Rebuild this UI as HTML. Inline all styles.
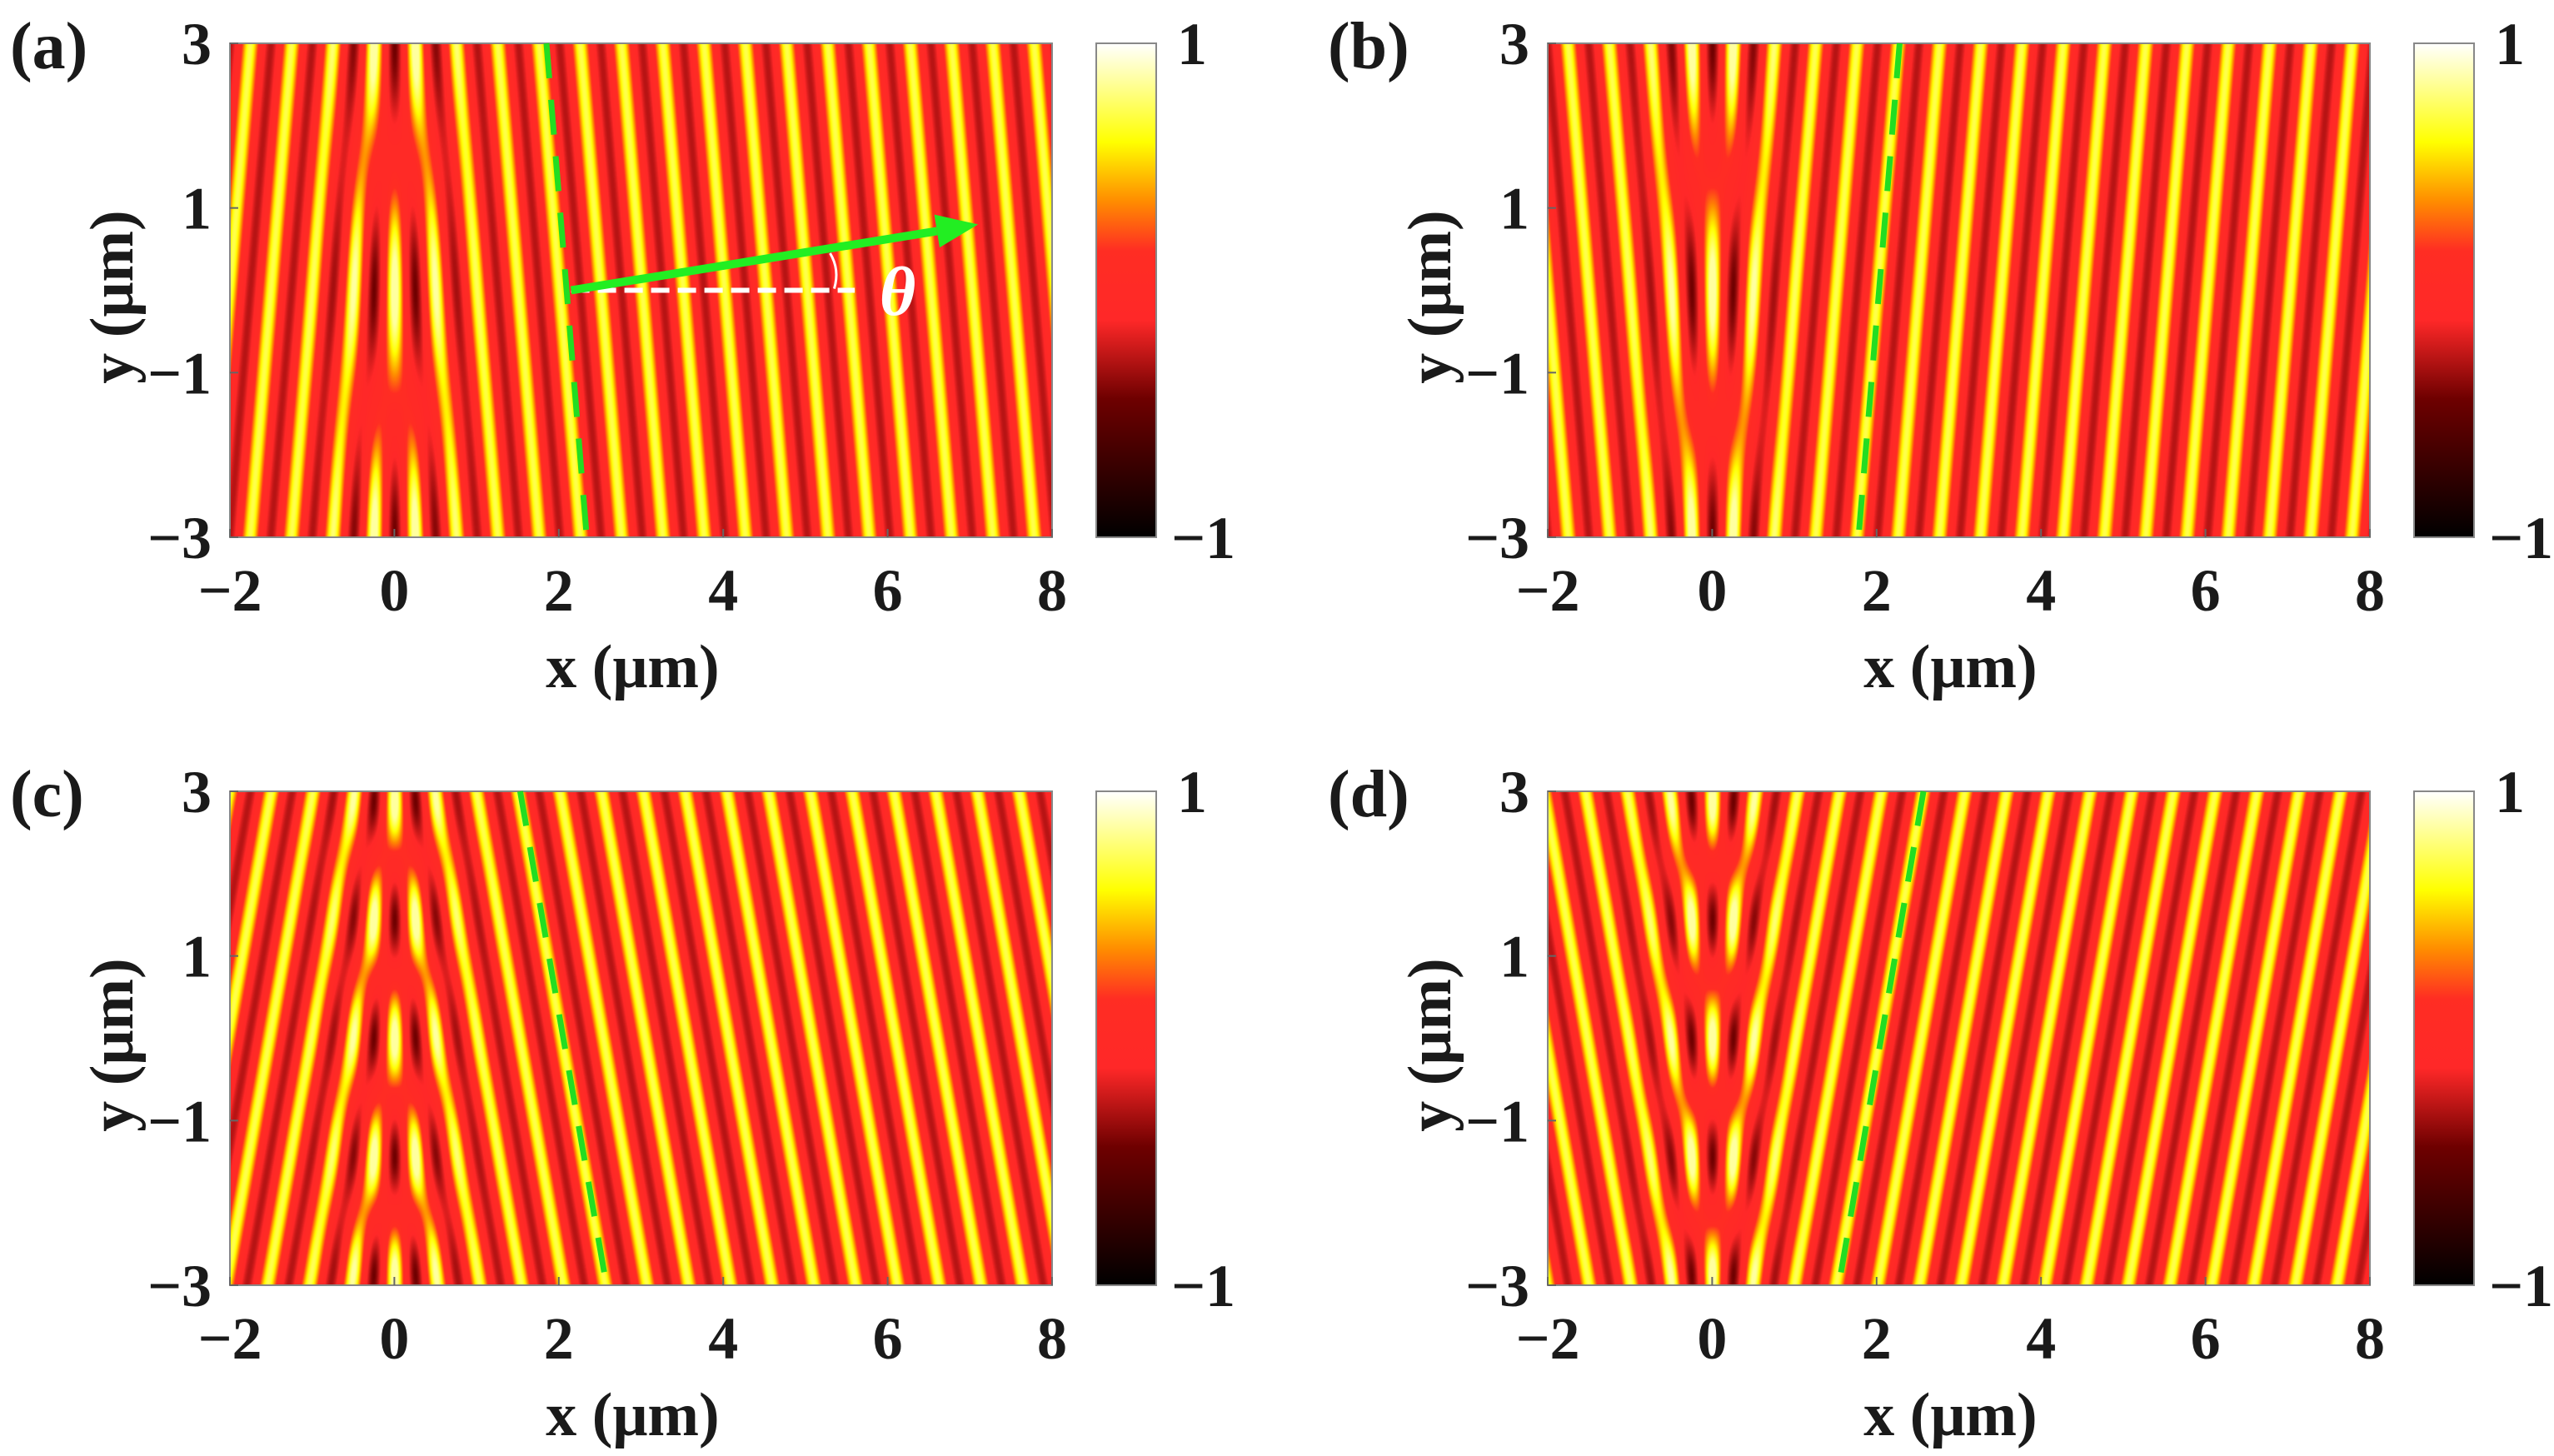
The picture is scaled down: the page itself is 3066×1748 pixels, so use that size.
<!DOCTYPE html>
<html><head><meta charset="utf-8"><style>
html,body{margin:0;padding:0;background:#fff;}
#root{position:relative;width:3066px;height:1748px;overflow:hidden;background:#fff;}
canvas{position:absolute;}
svg{position:absolute;left:0;top:0;}
svg text{font-family:'Liberation Serif','DejaVu Serif',serif !important;font-weight:bold;fill:#1a1a1a;}
</style></head><body>
<div id="root"></div>
<script>
// ---- chart data ----
const panelLabels = ['(a)','(b)','(c)','(d)'];
const tiltDeg = [4.8, -4.8, 10, -10];           // wavefront tilt of the transmitted wave
const ifaceTopX = [1.85, 2.28, 1.53, 2.57];     // interface x at y=3
const ifaceBotX = [2.34, 1.78, 2.58, 1.54];     // interface x at y=-3
const xTicks = [-2, 0, 2, 4, 6, 8];
const yTicks = [-3, -1, 1, 3];
const cbTicks = [1, -1];
const wavePeriod = [0.5, 0.5, 0.5, 0.5];        // μm
const arrowStart = [2.15, 0];
const arrowEnd = [7.1, 0.8];

// ---- layout ----
const W = 987, H = 593;
const origins = [[276,52],[1858,52],[276,950],[1858,950]];
const FONT = "'Liberation Serif','DejaVu Serif',serif";
const root = document.getElementById('root');
const NS = 'http://www.w3.org/2000/svg';
const svg = document.createElementNS(NS,'svg');
svg.setAttribute('width','3066'); svg.setAttribute('height','1748');
root.appendChild(svg);

function mk(tag, attrs, parent){ const e=document.createElementNS(NS,tag); for(const k in attrs) e.setAttribute(k,attrs[k]); if(tag==='text'){ e.setAttribute('font-family',FONT); } (parent||svg).appendChild(e); return e; }

const stops = [[0,[0,0,0]],[0.28,[110,0,0]],[0.44,[255,40,40]],[0.58,[255,45,35]],[0.68,[255,140,0]],[0.8,[255,255,0]],[1,[255,255,255]]];
function cmap(v){
  let t=(v+1)/2; t=Math.max(0,Math.min(1,t));
  for(let i=1;i<stops.length;i++){ if(t<=stops[i][0]){ const a=stops[i-1],b=stops[i]; const f=(t-a[0])/(b[0]-a[0]); return [0,1,2].map(j=>a[1][j]+(b[1][j]-a[1][j])*f);} }
  return [255,255,255];
}

for(let p=0;p<4;p++){
  const [ox,oy]=origins[p];
  const g = mk('g',{});
  
  
  const sx = x=> ox + (x+2)/10*W;
  const sy = y=> oy + (3-y)/6*H;
  const cv=document.createElement('canvas'); cv.width=W; cv.height=H;
  cv.style.left=ox+'px'; cv.style.top=oy+'px';
  
  
  root.insertBefore(cv, svg);
  const ctx=cv.getContext('2d'); const img=ctx.createImageData(W,H);
  const th=tiltDeg[p]*Math.PI/180, k=2*Math.PI/wavePeriod[p];
  const c=Math.cos(th), s=Math.sin(th);
  for(let j=0;j<H;j++){
    const y=3-6*j/H;
    const xi = ifaceTopX[p] + (ifaceBotX[p]-ifaceTopX[p])*(3-y)/6;
    for(let i=0;i<W;i++){
      const x=-2+10*i/W;
      let val;
      const pp = k*(x*c + y*s);
      if(x>=xi){ val=Math.cos(pp); }
      else{
        const a=0.5+0.5*Math.tanh((x+0.2)/0.45);
        const b=0.5-0.5*Math.tanh((x-0.2)/0.45);
        const pm = k*(-x*c + y*s);
        val = (a*Math.cos(pp)+b*Math.cos(pm));
        const n=Math.max(1,(a+b)*0.8); val/=n;
      }
      let v = val>0 ? 0.72*Math.pow(val,1.3) : -0.28*Math.pow(-val,2);
      v=Math.max(-1,Math.min(0.85,v));
      const col=cmap(v); const idx=(j*W+i)*4;
      img.data[idx]=col[0]; img.data[idx+1]=col[1]; img.data[idx+2]=col[2]; img.data[idx+3]=255;
    }
  }
  ctx.putImageData(img,0,0);
  const fr=mk('rect',{x:ox,y:oy,width:W,height:H,fill:'none',stroke:'#888','stroke-width':2},g);
  
  
  const dl=mk('line',{x1:sx(ifaceTopX[p]),y1:sy(3),x2:sx(ifaceBotX[p]),y2:sy(-3),stroke:'#22dd22','stroke-width':7,'stroke-dasharray':'42 26'},g);
  
  
  xTicks.forEach(t=>{
    const tl=mk('text',{x:sx(t),y:oy+H+88,'font-size':72,'text-anchor':'middle'},g);
    tl.textContent = t<0 ? '\u2212'+(-t) : String(t);
    
    
    mk('line',{x1:sx(t),y1:oy+H,x2:sx(t),y2:oy+H-10,stroke:'#666','stroke-width':2},g);
  });
  yTicks.forEach(t=>{
    const tl=mk('text',{x:ox-22,y:sy(t)+25,'font-size':72,'text-anchor':'end'},g);
    tl.textContent = t<0 ? '\u2212'+(-t) : String(t);
    
    
    mk('line',{x1:ox,y1:sy(t),x2:ox+10,y2:sy(t),stroke:'#666','stroke-width':2},g);
  });
  const xl=mk('text',{x:ox+W/2-10,y:oy+H+180,'font-size':74,'text-anchor':'middle'},g);
  xl.textContent='x (\u03bcm)';
  
  
  const yl=mk('text',{x:0,y:0,'font-size':74,'text-anchor':'middle',transform:`translate(${ox-117},${oy+H/2+8}) rotate(-90)`},g);
  yl.textContent='y (\u03bcm)';
  
  
  const pl=mk('text',{x:ox-264,y:oy+30,'font-size':80},g);
  pl.textContent=panelLabels[p];
  
  
  const cbx=ox+1040, cbw=72;
  const gid='cbg'+p;
  const defs=mk('defs',{},g);
  const lg=mk('linearGradient',{id:gid,x1:0,y1:1,x2:0,y2:0},defs);
  stops.forEach(st=>mk('stop',{offset:st[0],'stop-color':`rgb(${st[1].join(',')})`},lg));
  const cb=mk('rect',{x:cbx,y:oy,width:cbw,height:H,fill:`url(#${gid})`,stroke:'#888','stroke-width':2},g);
  
  
  cbTicks.forEach(t=>{
    const ct=mk('text',{x:cbx+(t<0?90:97),y:(t>0?oy:oy+H)+25,'font-size':72},g);
    ct.textContent = t<0 ? '\u2212'+(-t) : String(t);
    
    
  });
  if(p===0){
    const hd=mk('line',{x1:sx(arrowStart[0]),y1:sy(arrowStart[1]),x2:sx(5.6),y2:sy(arrowStart[1]),stroke:'#fff','stroke-width':6,'stroke-dasharray':'22 10'},g);
    
    
    const x1=sx(arrowStart[0]),y1=sy(arrowStart[1]),x2=sx(arrowEnd[0]),y2=sy(arrowEnd[1]);
    const ang=Math.atan2(y2-y1,x2-x1);
    const hx=x2-50*Math.cos(ang), hy=y2-50*Math.sin(ang);
    const ar=mk('line',{x1,y1,x2:hx,y2:hy,stroke:'#22ee22','stroke-width':10},g);
    
    
    const px=-Math.sin(ang)*20, py=Math.cos(ang)*20;
    mk('polygon',{points:`${x2},${y2} ${hx+px},${hy+py} ${hx-px},${hy-py}`,fill:'#22ee22'},g);
    mk('path',{d:`M ${sx(5.3)} ${sy(0.45)} Q ${sx(5.42)} ${sy(0.25)} ${sx(5.35)} ${sy(0.02)}`,stroke:'#fff','stroke-width':3,fill:'none'},g);
    const tt=mk('text',{x:sx(5.9),y:sy(-0.3),'font-size':84,'font-style':'italic','font-weight':'normal',style:'fill:#fff'},g);
    tt.textContent='\u03b8';
    
    
  }
}
</script>
</body></html>
